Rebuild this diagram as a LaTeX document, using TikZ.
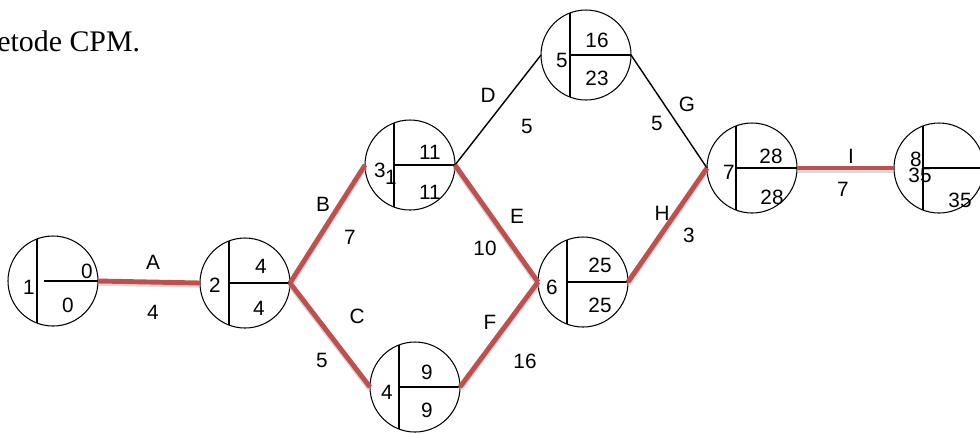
\documentclass[tikz,border=0pt]{standalone}
\usepackage{fontspec}
\setmainfont{Liberation Serif}
\setsansfont{Liberation Sans}
\usetikzlibrary{calc}
\definecolor{critred}{HTML}{C0504D}
\definecolor{shade}{HTML}{B4B4B4}
\tikzset{
  event/.style={
    circle,
    draw=black,
    line width=0.6pt,
    minimum size=18mm,
    inner sep=0pt,
    outer sep=0pt
  },
  divider/.style={
    draw=black,
    line width=1.1pt
  },
  critical/.style={
    draw=critred,
    line width=2.8pt,
    preaction={draw=shade, line width=3pt, opacity=0.5,
      transform canvas={yshift=-1.2pt}}
  },
  activity/.style={
    draw=black,
    line width=0.8pt
  },
  num/.style={
    font=\sffamily\fontsize{11.8}{13}\selectfont,
    inner sep=0pt
  },
  pagetext/.style={
    font=\rmfamily\fontsize{17}{20}\selectfont,
    inner sep=0pt
  }
}

\begin{document}
\begin{tikzpicture}[x=0.2mm, y=-0.2mm]
\useasboundingbox (0,0) rectangle (980,433);
\clip (0,0) rectangle (980,433);

% ---------------------------------------------------------------------------
% Surrounding page text
% ---------------------------------------------------------------------------
\node[pagetext, anchor=base west] (caption) at (-3,51) {etode CPM.};

% ---------------------------------------------------------------------------
% 1. Events
% ---------------------------------------------------------------------------
\node[event] (n1) at (53,281) {};
\node[event] (n2) at (245,283) {};
\node[event] (n3) at (410,165) {};
\node[event] (n4) at (415,387) {};
\node[event] (n5) at (586,55) {};
\node[event] (n6) at (583,282) {};
\node[event] (n7) at (752,168) {};
\node[event] (n8) at (939,168) {};

\foreach \n/\h in {n1/-9, n2/-16, n3/-16, n4/-16, n5/-16, n6/-16, n7/-16, n8/-16} {
  \draw[divider] ($(\n.center)+(-16,-42)$) -- ($(\n.center)+(-16,42)$);
  \draw[divider] ($(\n.center)+(\h,0)$) -- (\n.east);
}

% event number, earliest time, latest time
\node[num] (n1id) at (29,287) {1};
\node[num] (n1es) at (87,271) {0};
\node[num] (n1lf) at (68,305) {0};

\node[num] (n2id) at (215,285) {2};
\node[num] (n2es) at (261,266) {4};
\node[num] (n2lf) at (259,308) {4};

\node[num] (n3id) at (380,170) {3};
\node[num] (n3x) at (391,177) {1};
\node[num] (n3es) at (430,152) {11};
\node[num] (n3lf) at (430,192) {11};

\node[num] (n4id) at (387,392) {4};
\node[num] (n4es) at (427,372) {9};
\node[num] (n4lf) at (427,410) {9};

\node[num] (n5id) at (562,60) {5};
\node[num] (n5es) at (597,40) {16};
\node[num] (n5lf) at (597,78) {23};

\node[num] (n6id) at (552,287) {6};
\node[num] (n6es) at (600,265) {25};
\node[num] (n6lf) at (600,305) {25};

\node[num] (n7id) at (729,172) {7};
\node[num] (n7es) at (771,156) {28};
\node[num] (n7lf) at (772,197) {28};

\node[num] (n8id) at (916,159) {8};
\node[num] (n8es) at (920,175) {35};
\node[num] (n8lf) at (960,200) {35};

% ---------------------------------------------------------------------------
% 2. Activities
% ---------------------------------------------------------------------------
\draw[critical] (n1.east) -- (n2.west);
\draw[critical] (n2.east) -- (n3.west);
\draw[critical] (n2.east) -- (n4.west);
\draw[activity] (n3.east) -- (n5.west);
\draw[critical] (n3.east) -- (n6.west);
\draw[critical] (n4.east) -- (n6.west);
\draw[activity] (n5.east) -- (n7.west);
\draw[critical] (n6.east) -- (n7.west);
\draw[critical] (n7.east) -- (n8.west);

% activity names and durations
\node[num] (actA) at (153,262) {A};
\node[num] (durA) at (153,312) {4};
\node[num] (actB) at (323,204) {B};
\node[num] (durB) at (350,237) {7};
\node[num] (actC) at (357,316) {C};
\node[num] (durC) at (322,360) {5};
\node[num] (actD) at (488,95) {D};
\node[num] (durD) at (527,126) {5};
\node[num] (actE) at (517,216) {E};
\node[num] (durE) at (485,248) {10};
\node[num] (actF) at (490,322) {F};
\node[num] (durF) at (525,361) {16};
\node[num] (actG) at (687,104) {G};
\node[num] (durG) at (657,123) {5};
\node[num] (actH) at (662,213) {H};
\node[num] (durH) at (689,235) {3};
\node[num] (actI) at (851,156) {I};
\node[num] (durI) at (843,189) {7};

\end{tikzpicture}
\end{document}
